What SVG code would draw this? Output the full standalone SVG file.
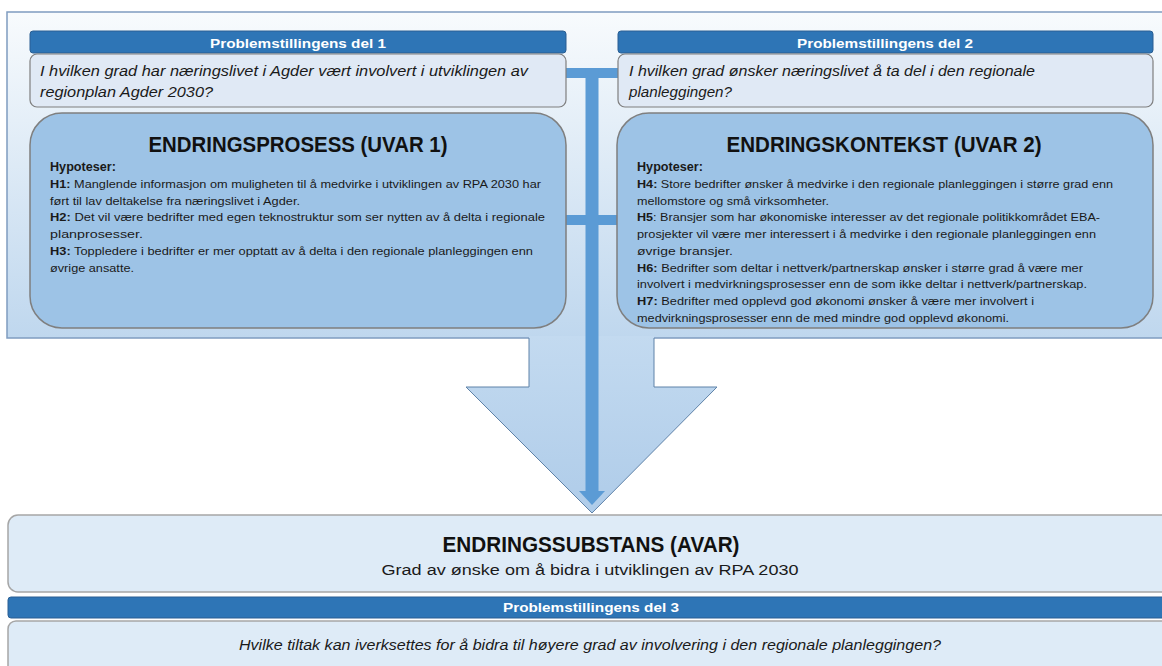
<svg xmlns="http://www.w3.org/2000/svg" width="1162" height="666" viewBox="0 0 1162 666">
  <defs>
    <linearGradient id="bgGrad" x1="0" y1="0" x2="0" y2="1">
      <stop offset="0" stop-color="#f8fbfd"/>
      <stop offset="1" stop-color="#bfd7ee"/>
    </linearGradient>
    <linearGradient id="arrowGrad" x1="0" y1="0" x2="0" y2="1">
      <stop offset="0" stop-color="#c3daf0"/>
      <stop offset="1" stop-color="#afcce9"/>
    </linearGradient>
    <style>
      .hdr { fill: #2e75b6; stroke: #2a5f93; stroke-width: 1; }
      .hdrtxt { font-family: "Liberation Sans", "DejaVu Sans", sans-serif; font-weight: bold; font-size: 12.5px; fill: #ffffff; text-anchor: middle; }
      .qbox { fill: #e0e9f5; stroke: #7f7f7f; stroke-width: 1.2; }
      .qtxt { font-family: "Liberation Sans", "DejaVu Sans", sans-serif; font-style: italic; font-size: 14px; fill: #1a1a1a; }
      .bigbox { fill: #9dc3e6; stroke: #7f7f7f; stroke-width: 1.5; }
      .title { font-family: "Liberation Sans", "DejaVu Sans", sans-serif; font-weight: bold; font-size: 22px; fill: #111111; text-anchor: middle; }
      .hyp { font-family: "Liberation Sans", "DejaVu Sans", sans-serif; font-size: 10.5px; fill: #1a1a1a; }
      .hyphead { font-family: "Liberation Sans", "DejaVu Sans", sans-serif; font-size: 12px; font-weight: bold; fill: #1a1a1a; }
      .b { font-weight: bold; }
      .lbox { fill: #deebf7; stroke: #a6a6a6; stroke-width: 1.5; }
      .link { fill: #5b9bd5; }
    </style>
  </defs>

  <!-- background panel behind the upper section -->
  <rect x="7" y="12" width="1170" height="326" fill="url(#bgGrad)" stroke="#7f9cc0" stroke-width="1.5"/>

  <!-- connectors: broad flow arrow and the linking bars -->
  <g id="connectors">
    <polygon points="529,336 529,387 466,387 592,513 717,387 654,387 654,336" fill="url(#arrowGrad)"/>
    <polyline points="529,338 529,387 466,387 592,513 717,387 654,387 654,338" fill="none" stroke="#5f82a8" stroke-width="1"/>
    <rect class="link" x="566" y="68" width="52" height="10"/>
    <rect class="link" x="566" y="215" width="51" height="10"/>
    <rect class="link" x="585.5" y="68" width="13" height="424"/>
    <polygon class="link" points="579,491 605,491 592,505"/>
  </g>

  <!-- question 1 -->
  <g id="del1">
    <rect class="hdr" x="30" y="31" width="536" height="22" rx="3"/>
    <text class="hdrtxt" x="298" y="48" textLength="176" lengthAdjust="spacingAndGlyphs">Problemstillingens del 1</text>
    <rect class="qbox" x="30" y="54" width="536" height="53" rx="7"/>
    <text class="qtxt" x="40" y="76" textLength="488" lengthAdjust="spacingAndGlyphs">I hvilken grad har næringslivet i Agder vært involvert i utviklingen av</text>
    <text class="qtxt" x="40" y="97" textLength="173" lengthAdjust="spacingAndGlyphs">regionplan Agder 2030?</text>
  </g>

  <!-- question 2 -->
  <g id="del2">
    <rect class="hdr" x="618" y="31" width="535" height="22" rx="3"/>
    <text class="hdrtxt" x="885" y="48" textLength="176" lengthAdjust="spacingAndGlyphs">Problemstillingens del 2</text>
    <rect class="qbox" x="618" y="54" width="535" height="53" rx="7"/>
    <text class="qtxt" x="629" y="76" textLength="406" lengthAdjust="spacingAndGlyphs">I hvilken grad ønsker næringslivet å ta del i den regionale</text>
    <text class="qtxt" x="629" y="97" textLength="103" lengthAdjust="spacingAndGlyphs">planleggingen?</text>
  </g>

  <!-- UVAR 1 -->
  <g id="endringsprosess">
    <rect class="bigbox" x="30" y="113" width="536" height="215" rx="32"/>
    <text class="title" x="298" y="152" textLength="299" lengthAdjust="spacingAndGlyphs">ENDRINGSPROSESS (UVAR 1)</text>
    <text class="hyphead" x="50" y="171" textLength="66" lengthAdjust="spacingAndGlyphs">Hypoteser:</text>
    <text class="hyp" x="50" y="188" textLength="491" lengthAdjust="spacingAndGlyphs"><tspan class="b">H1:</tspan> Manglende  informasjon om muligheten  til å medvirke  i utviklingen  av RPA 2030 har</text>
    <text class="hyp" x="50" y="205" textLength="250" lengthAdjust="spacingAndGlyphs">ført til lav deltakelse fra næringslivet  i Agder.</text>
    <text class="hyp" x="50" y="221" textLength="495" lengthAdjust="spacingAndGlyphs"><tspan class="b">H2:</tspan> Det vil være bedrifter med egen teknostruktur  som ser nytten av å delta i regionale</text>
    <text class="hyp" x="50" y="238" textLength="93" lengthAdjust="spacingAndGlyphs">planprosesser.</text>
    <text class="hyp" x="50" y="255" textLength="483" lengthAdjust="spacingAndGlyphs"><tspan class="b">H3:</tspan> Toppledere  i bedrifter  er mer opptatt av å delta i den regionale planleggingen  enn</text>
    <text class="hyp" x="50" y="272" textLength="84" lengthAdjust="spacingAndGlyphs">øvrige ansatte.</text>
  </g>

  <!-- UVAR 2 -->
  <g id="endringskontekst">
    <rect class="bigbox" x="617" y="113" width="536" height="215" rx="32"/>
    <text class="title" x="884" y="152" textLength="315" lengthAdjust="spacingAndGlyphs">ENDRINGSKONTEKST (UVAR 2)</text>
    <text class="hyphead" x="637" y="171" textLength="66" lengthAdjust="spacingAndGlyphs">Hypoteser:</text>
    <text class="hyp" x="637" y="188" textLength="476" lengthAdjust="spacingAndGlyphs"><tspan class="b">H4:</tspan> Store bedrifter ønsker å medvirke  i den regionale planleggingen  i større grad enn</text>
    <text class="hyp" x="637" y="205" textLength="192" lengthAdjust="spacingAndGlyphs">mellomstore og små virksomheter.</text>
    <text class="hyp" x="637" y="221" textLength="463" lengthAdjust="spacingAndGlyphs"><tspan class="b">H5</tspan>: Bransjer som har økonomiske interesser av det regionale politikkområdet EBA-</text>
    <text class="hyp" x="637" y="238" textLength="459" lengthAdjust="spacingAndGlyphs">prosjekter vil være mer interessert i å medvirke i den regionale planleggingen  enn</text>
    <text class="hyp" x="637" y="255" textLength="96" lengthAdjust="spacingAndGlyphs">øvrige bransjer.</text>
    <text class="hyp" x="637" y="272" textLength="446" lengthAdjust="spacingAndGlyphs"><tspan class="b">H6:</tspan> Bedrifter som deltar i nettverk/partnerskap  ønsker i større grad å være mer</text>
    <text class="hyp" x="637" y="288" textLength="450" lengthAdjust="spacingAndGlyphs">involvert i medvirkningsprosesser  enn de som ikke deltar i nettverk/partnerskap.</text>
    <text class="hyp" x="637" y="305" textLength="397" lengthAdjust="spacingAndGlyphs"><tspan class="b">H7:</tspan> Bedrifter med opplevd god økonomi ønsker å være mer involvert i</text>
    <text class="hyp" x="637" y="322" textLength="372" lengthAdjust="spacingAndGlyphs">medvirkningsprosesser  enn de med mindre god opplevd økonomi.</text>
  </g>

  <!-- AVAR -->
  <g id="endringssubstans">
    <rect class="lbox" x="8" y="515" width="1170" height="77" rx="10"/>
    <text class="title" x="591" y="552" font-size="20" textLength="297" lengthAdjust="spacingAndGlyphs">ENDRINGSSUBSTANS (AVAR)</text>
    <text x="590" y="575" font-family="Liberation Sans, DejaVu Sans, sans-serif" font-size="15.5" fill="#1a1a1a" text-anchor="middle" textLength="417" lengthAdjust="spacingAndGlyphs">Grad av ønske om å bidra i utviklingen av RPA 2030</text>
  </g>

  <!-- question 3 -->
  <g id="del3">
    <rect class="hdr" x="8" y="597" width="1170" height="21" rx="3"/>
    <text class="hdrtxt" x="591" y="612" textLength="176" lengthAdjust="spacingAndGlyphs">Problemstillingens del 3</text>
    <rect class="lbox" x="8" y="621" width="1170" height="60" rx="8"/>
    <text class="qtxt" x="590" y="650" text-anchor="middle" textLength="702" lengthAdjust="spacingAndGlyphs">Hvilke tiltak kan iverksettes for å bidra til høyere grad av involvering i den regionale planleggingen?</text>
  </g>
</svg>
